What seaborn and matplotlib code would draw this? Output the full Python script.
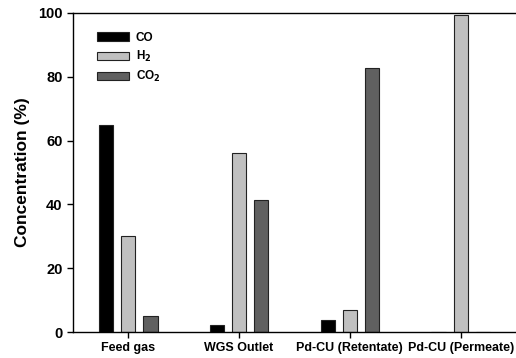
import matplotlib
matplotlib.use("Agg")
import matplotlib.pyplot as plt
import seaborn as sns
import pandas as pd
import numpy as np

categories = ["Feed gas", "WGS Outlet", "Pd-CU (Retentate)", "Pd-CU (Permeate)"]
co_values = [65.0, 2.3, 3.9, 0.0]
h2_values = [30.0, 56.0, 7.0, 99.4]
co2_values = [5.0, 41.5, 82.8, 0.0]
series_names = ["CO", "H$_2$", "CO$_2$"]
series_colors = ["#000000", "#c0c0c0", "#606060"]
y_ticks = [0, 20, 40, 60, 80, 100]

sns.set_style("white")
plt.rcParams["font.family"] = ["Liberation Sans", "DejaVu Sans"]
plt.rcParams["font.weight"] = "bold"
plt.rcParams["mathtext.default"] = "bf"
plt.rcParams["text.color"] = "black"
plt.rcParams["axes.labelcolor"] = "black"
plt.rcParams["xtick.color"] = "black"
plt.rcParams["ytick.color"] = "black"

rows = []
for s, vals in zip(series_names, [co_values, h2_values, co2_values]):
    for c, v in zip(categories, vals):
        rows.append({"Sample": c, "Gas": s, "Concentration": v})
df = pd.DataFrame(rows)

fig = plt.figure(figsize=(5.16, 3.58), dpi=100)
ax = fig.add_axes([73/516, 1-332/358, 443/516, 319/358])

sns.barplot(data=df, x="Sample", y="Concentration", hue="Gas",
            hue_order=series_names, order=categories,
            palette=series_colors, width=0.6, gap=0.36,
            edgecolor="#222222", linewidth=0.8, ax=ax, legend=True)

ax.set_xlim(-0.5, 3.5)
ax.set_ylim(0, 100)
ax.set_yticks(y_ticks)
ax.set_xlabel("")
ax.set_ylabel("Concentration (%)", fontsize=12.5, fontweight="bold",
              color="black", labelpad=6)
for sp in ["left", "bottom", "top"]:
    ax.spines[sp].set_visible(True)
    ax.spines[sp].set_color("black")
    ax.spines[sp].set_linewidth(1.0)
ax.spines["right"].set_visible(False)
ax.tick_params(axis="both", direction="out", length=4, width=1, colors="black",
               labelsize=9, bottom=True, left=True)
for lab in ax.get_xticklabels() + ax.get_yticklabels():
    lab.set_fontweight("bold")
    lab.set_color("black")
ax.tick_params(axis="y", labelsize=10.5)

leg = ax.legend(loc="upper left", frameon=False, fontsize=8.5,
                handlelength=2.7, handleheight=0.7, labelspacing=0.45,
                bbox_to_anchor=(0.03, 0.975), handletextpad=0.6)
for t in leg.get_texts():
    t.set_fontweight("bold")
    t.set_color("black")

fig.savefig("out.png", dpi=100)
